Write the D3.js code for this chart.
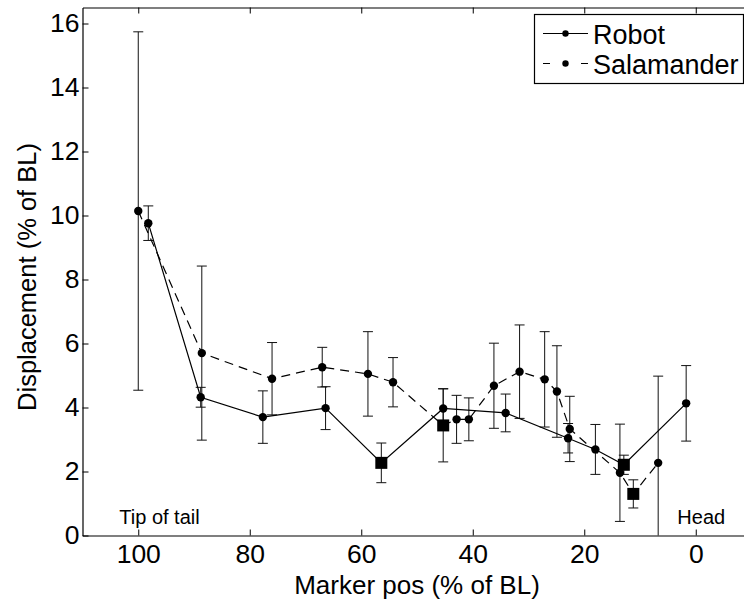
<!DOCTYPE html>
<html>
<head>
<meta charset="utf-8">
<script src="https://cdn.jsdelivr.net/npm/d3@7"></script>
<style>
  html, body { margin: 0; padding: 0; background: #fff; }
  svg { display: block; font-family: "Liberation Sans", Arial, Helvetica, sans-serif; }
</style>
</head>
<body>
<svg id="chart" width="744" height="603"></svg>
<script>
// ---- Data ----
const robotX   = [98.2, 88.8, 77.65, 66.4, 56.4, 45.3, 34.1, 22.9, 18.0, 12.9, 1.72];
const robotY   = [9.76, 4.32, 3.70, 3.98, 2.27, 3.97, 3.83, 3.04, 2.69, 2.21, 4.13];
const robotErr = [0.54, 0.31, 0.82, 0.67, 0.62, 0.62, 0.59, 0.46, 0.78, 0.30, 1.18];
const robotMarker = ["circle","circle","circle","circle","square","circle","circle","circle","circle","square","circle"];

const salX   = [100, 88.6, 76.0, 67.0, 58.8, 54.3, 45.3, 42.9, 40.7, 36.2, 31.6, 27.1, 24.9, 22.6, 13.6, 11.2, 6.74];
const salY   = [10.14, 5.70, 4.90, 5.26, 5.05, 4.79, 3.44, 3.63, 3.63, 4.68, 5.12, 4.88, 4.50, 3.33, 1.96, 1.30, 2.27];
const salErr = [5.60, 2.72, 1.13, 0.62, 1.32, 0.77, 1.14, 0.75, 0.67, 1.33, 1.46, 1.49, 1.43, 1.02, 1.52, 0.44, 2.71];
const salMarker = ["circle","circle","circle","circle","circle","circle","square","circle","circle","circle","circle","circle","circle","circle","circle","square","circle"];

const xTicks = [100, 80, 60, 40, 20, 0];
const yTicks = [0, 2, 4, 6, 8, 10, 12, 14, 16];
const seriesNames = ["Robot", "Salamander"];

// ---- Layout ----
const svg = d3.select("#chart");
const pLeft = 82.5, pRight = 751.5, pTop = 7.5, pBottom = 535.5;

const x = d3.scaleLinear().domain([110, -10]).range([pLeft, pRight]);
const y = d3.scaleLinear().domain([0, 16.5]).range([pBottom, pTop]);

const tickFont = 26.5;

svg.append("defs").append("clipPath").attr("id", "plotclip")
  .append("rect").attr("x", pLeft).attr("y", pTop).attr("width", pRight - pLeft).attr("height", pBottom - pTop);

// Axes
const gx = svg.append("g").attr("transform", `translate(0,${pBottom})`)
  .call(d3.axisBottom(x).tickValues(xTicks).tickFormat(d3.format("d")).tickSizeInner(-6).tickSizeOuter(0).tickPadding(9));
const gxTop = svg.append("g").attr("transform", `translate(0,${pTop})`)
  .call(d3.axisTop(x).tickValues(xTicks).tickFormat("").tickSizeInner(-6).tickSizeOuter(0));
const gy = svg.append("g").attr("transform", `translate(${pLeft},0)`)
  .call(d3.axisLeft(y).tickValues(yTicks).tickFormat(d3.format("d")).tickSizeInner(-6).tickSizeOuter(0).tickPadding(3));
const gyRight = svg.append("g").attr("transform", `translate(${pRight},0)`)
  .call(d3.axisRight(y).tickValues(yTicks).tickFormat("").tickSizeInner(-6).tickSizeOuter(0));

[gx, gxTop, gy, gyRight].forEach(g => {
  g.select(".domain").attr("stroke", "#000").attr("stroke-width", 1.2);
  g.selectAll(".tick line").attr("stroke", "#000").attr("stroke-width", 1);
  g.selectAll(".tick text").attr("fill", "#000").attr("font-size", tickFont)
    .attr("font-family", "Liberation Sans, Arial, sans-serif");
});

// Axis labels
svg.append("text")
  .attr("x", (pLeft + pRight) / 2).attr("y", 594)
  .attr("text-anchor", "middle").attr("font-size", 26).attr("fill", "#000")
  .text("Marker pos (% of BL)");
svg.append("text")
  .attr("transform", `translate(36,277) rotate(-90)`)
  .attr("text-anchor", "middle").attr("font-size", 25.5).attr("fill", "#000")
  .text("Displacement (% of BL)");

// Annotations
svg.append("text").attr("x", x(103.4)).attr("y", y(0.37))
  .attr("font-size", 20).attr("fill", "#000").text("Tip of tail");
svg.append("text").attr("x", x(3.3)).attr("y", y(0.37))
  .attr("font-size", 20).attr("fill", "#000").text("Head");

// Data
const robot = robotX.map((d, i) => ({x: d, y: robotY[i], e: robotErr[i], m: robotMarker[i]}));
const sal = salX.map((d, i) => ({x: d, y: salY[i], e: salErr[i], m: salMarker[i]}));

const plot = svg.append("g").attr("clip-path", "url(#plotclip)");

function drawErr(data) {
  const g = plot.append("g").attr("stroke", "#111").attr("stroke-width", 1).attr("fill", "none");
  data.forEach(d => {
    const x0 = x(d.x), y1 = y(d.y + d.e), y2 = y(d.y - d.e);
    g.append("line").attr("x1", x0).attr("x2", x0).attr("y1", y1).attr("y2", y2);
    g.append("line").attr("x1", x0 - 5).attr("x2", x0 + 5).attr("y1", y1).attr("y2", y1);
    g.append("line").attr("x1", x0 - 5).attr("x2", x0 + 5).attr("y1", y2).attr("y2", y2);
  });
}
drawErr(sal);
drawErr(robot);

const line = d3.line().x(d => x(d.x)).y(d => y(d.y));
plot.append("path").datum(sal).attr("d", line)
  .attr("fill", "none").attr("stroke", "#000").attr("stroke-width", 1.2).attr("stroke-dasharray", "9,6");
plot.append("path").datum(robot).attr("d", line)
  .attr("fill", "none").attr("stroke", "#000").attr("stroke-width", 1.2);

function drawMarkers(data) {
  data.forEach(d => {
    if (d.m === "square") {
      plot.append("rect").attr("x", x(d.x) - 6).attr("y", y(d.y) - 6)
        .attr("width", 12).attr("height", 12).attr("fill", "#000");
    } else {
      plot.append("circle").attr("cx", x(d.x)).attr("cy", y(d.y)).attr("r", 4.2).attr("fill", "#000");
    }
  });
}
drawMarkers(sal);
drawMarkers(robot);

// Legend
const lg = svg.append("g");
lg.append("rect").attr("x", 534.5).attr("y", 14.5).attr("width", 209).attr("height", 69)
  .attr("fill", "#fff").attr("stroke", "#000").attr("stroke-width", 1.2);
const rows = [{name: seriesNames[0], dash: null, cy: 33.5}, {name: seriesNames[1], dash: "7,31", cy: 63.5}];
rows.forEach(r => {
  lg.append("line").attr("x1", 543).attr("x2", 588).attr("y1", r.cy).attr("y2", r.cy)
    .attr("stroke", "#000").attr("stroke-width", 1.2).attr("stroke-dasharray", r.dash);
  lg.append("circle").attr("cx", 565.5).attr("cy", r.cy).attr("r", 3.2).attr("fill", "#000");
  lg.append("text").attr("x", 593).attr("y", r.cy + 10).attr("font-size", 27).attr("fill", "#000").text(r.name);
});
</script>
</body>
</html>
